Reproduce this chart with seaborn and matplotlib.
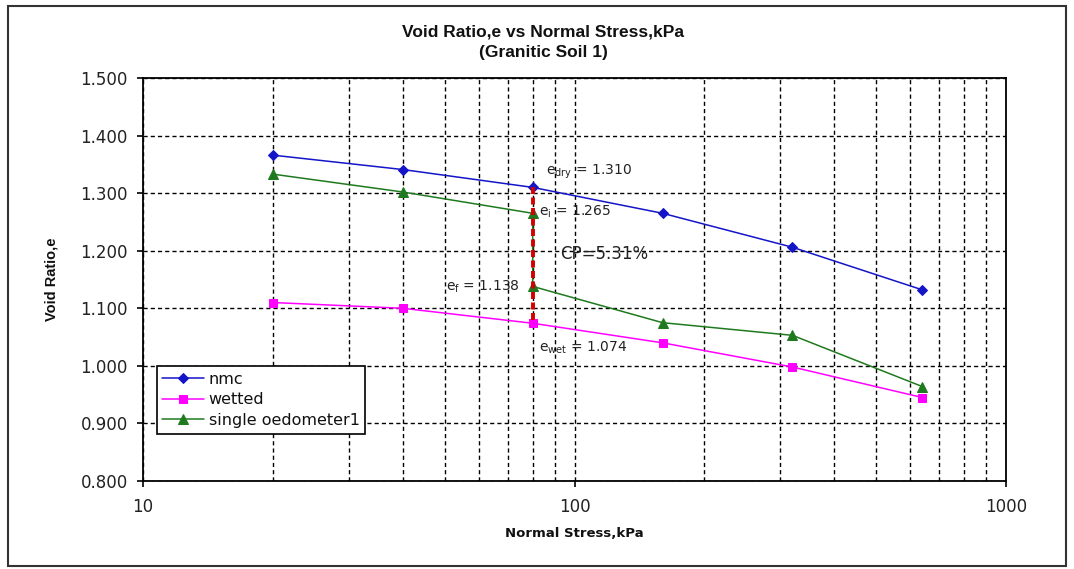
import numpy as np
import pandas as pd
import matplotlib
matplotlib.use("Agg")
import matplotlib.pyplot as plt
import matplotlib.ticker as mticker
from matplotlib.patches import Rectangle
import seaborn as sns

# ---------------- data ----------------
stress = [20, 40, 80, 160, 320, 640]
nmc = [1.366, 1.341, 1.310, 1.265, 1.206, 1.132]
wetted = [1.110, 1.100, 1.074, 1.040, 0.998, 0.945]
single_stress = [20, 40, 80, 80, 160, 320, 640]
single_oedometer1 = [1.333, 1.302, 1.265, 1.138, 1.075, 1.053, 0.964]
series_names = ["nmc", "wetted", "single oedometer1"]
x_ticks = [10, 100, 1000]
x_tick_labels = ["10", "100", "1000"]
y_ticks = [0.8, 0.9, 1.0, 1.1, 1.2, 1.3, 1.4, 1.5]
cp_text = "CP=5.31%"

# ---------------- style ----------------
sns.set_style("ticks")
plt.rcParams["font.family"] = ["DejaVu Sans"]
narrow = ["Liberation Sans", "DejaVu Sans"]

fig = plt.figure(figsize=(10.74, 5.69), dpi=100)
ax = fig.add_axes([143 / 1074, 1 - 481 / 569, (1006 - 143) / 1074, (481 - 78) / 569])

c_nmc = "#1414C8"
c_wet = "#FF00FF"
c_single = "#1F7A1F"

df_nmc = pd.DataFrame({"x": stress, "y": nmc})
df_wet = pd.DataFrame({"x": stress, "y": wetted})
df_sgl = pd.DataFrame({"x": single_stress, "y": single_oedometer1})

sns.lineplot(data=df_nmc, x="x", y="y", ax=ax, color=c_nmc, marker="D", markersize=5.5,
             markeredgecolor=c_nmc, linewidth=1.1, estimator=None, sort=False,
             label=series_names[0], zorder=3)
sns.lineplot(data=df_wet, x="x", y="y", ax=ax, color=c_wet, marker="s", markersize=5.5,
             markeredgecolor=c_wet, linewidth=1.1, estimator=None, sort=False,
             label=series_names[1], zorder=3)
sns.lineplot(data=df_sgl, x="x", y="y", ax=ax, color=c_single, marker="^", markersize=6.5,
             markeredgecolor=c_single, linewidth=1.1, estimator=None, sort=False,
             label=series_names[2], zorder=3)

# collapse potential line (red dashed)
cp_df = pd.DataFrame({"x": [stress[2], stress[2]], "y": [nmc[2], wetted[2]]})
sns.lineplot(data=cp_df, x="x", y="y", ax=ax, color="#D40000", linewidth=2.8,
             linestyle=(0, (1.8, 0.9)), estimator=None, sort=False, legend=False, zorder=4)

# ---------------- axes ----------------
ax.set_xscale("log")
ax.set_xlim(10, 1000)
ax.set_ylim(0.8, 1.5)
ax.set_xticks(x_ticks)
ax.set_xticklabels(x_tick_labels)
ax.xaxis.set_minor_locator(mticker.LogLocator(base=10, subs=np.arange(2, 10)))
ax.xaxis.set_minor_formatter(mticker.NullFormatter())
ax.set_yticks(y_ticks)
ax.yaxis.set_major_formatter(mticker.FormatStrFormatter("%.3f"))

grid_kw = dict(color="black", linestyle=(0, (3.0, 2.2)), linewidth=1.0)
ax.grid(True, which="major", axis="both", **grid_kw)
ax.grid(True, which="minor", axis="x", **grid_kw)
ax.set_axisbelow(True)

for s in ax.spines.values():
    s.set_visible(True)
    s.set_color("black")
    s.set_linewidth(1.3)

ax.tick_params(axis="both", which="major", direction="out", length=4, width=1.2,
               color="black", labelsize=12, labelcolor="#222222")
ax.tick_params(axis="y", pad=7)
ax.tick_params(axis="x", pad=8)
ax.tick_params(axis="x", which="minor", length=0)

ax.set_xlabel("Normal Stress,kPa", fontsize=9.5, fontweight="bold", color="#111111", labelpad=8)
ax.set_ylabel("Void Ratio,e", fontsize=10.5, fontweight="bold", family=narrow,
              color="#111111", labelpad=16)

# title
fig.text(543 / 1074, 1 - 32 / 569, "Void Ratio,e vs Normal Stress,kPa", ha="center",
         va="center", fontsize=12.5, fontweight="bold", family=narrow, color="#111111")
fig.text(543 / 1074, 1 - 52 / 569, "(Granitic Soil 1)", ha="center", va="center",
         fontsize=12.5, fontweight="bold", family=narrow, color="#111111")

# annotations
ann_kw = dict(textcoords="offset pixels", fontsize=10, color="#222222", va="center")
ax.annotate(r"e$_{\mathrm{dry}}$ = %.3f" % nmc[2], xy=(stress[2], nmc[2]), xytext=(13, 16),
            ha="left", **ann_kw)
ax.annotate(r"e$_{\mathrm{i}}$ = %.3f" % single_oedometer1[2],
            xy=(single_stress[2], single_oedometer1[2]), xytext=(6, 1), ha="left", **ann_kw)
ax.annotate(r"e$_{\mathrm{f}}$ = %.3f" % single_oedometer1[3],
            xy=(single_stress[3], single_oedometer1[3]), xytext=(-13, 0), ha="right", **ann_kw)
ax.annotate(r"e$_{\mathrm{wet}}$ = %.3f" % wetted[2], xy=(stress[2], wetted[2]), xytext=(6, -25),
            ha="left", **ann_kw)
ax.annotate(cp_text, xy=(stress[2], 1.2), xytext=(27, -3), textcoords="offset pixels",
            fontsize=12, color="#222222", va="center", ha="left")

# legend
leg = ax.legend(loc="upper left", bbox_to_anchor=(0.016, 0.285), fontsize=11.5,
                frameon=True, fancybox=False, shadow=False, framealpha=1,
                edgecolor="black", handlelength=2.6, handletextpad=0.3,
                labelspacing=0.35, borderpad=0.35, borderaxespad=0)
leg.get_frame().set_linewidth(1.2)
for t in leg.get_texts():
    t.set_color("#111111")

# outer chart border
fig.patches.append(Rectangle((8 / 1074, 3 / 569), (1066 - 8) / 1074, (563 - 3) / 569,
                             transform=fig.transFigure, fill=False, edgecolor="#333333",
                             linewidth=1.5))

fig.savefig("out.png", dpi=100, facecolor="white")
